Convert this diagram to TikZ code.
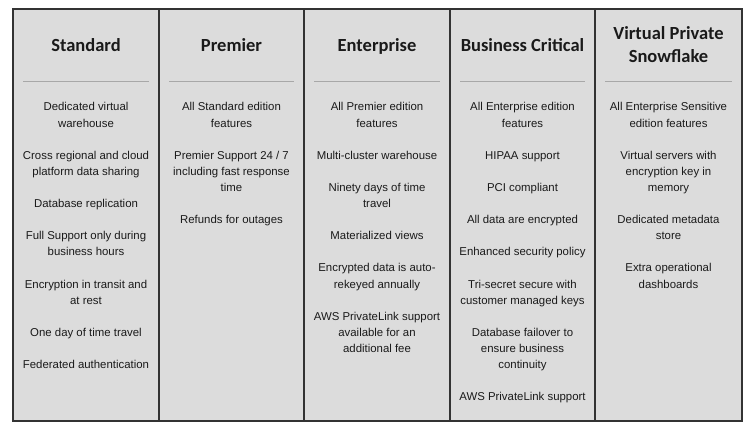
\documentclass[tikz,border=0pt]{standalone}
\usepackage{fontspec}
\setmainfont{Liberation Sans}
\newfontfamily\headfont{Carlito}
\definecolor{panel}{HTML}{DCDCDC}
\definecolor{frame}{HTML}{333333}
\definecolor{sepline}{HTML}{A8A8A8}
\definecolor{txt}{HTML}{1A1A1A}
\newcommand\itemgap{\\[16.1pt]}
\tikzset{
  colbox/.style={draw=frame, fill=panel, line width=1.2pt, inner sep=0pt, minimum height=412pt},
  head/.style={font=\headfont\bfseries\fontsize{18.5}{23}\selectfont, text=txt, align=center, inner sep=0pt, anchor=base},
  body/.style={font=\fontsize{11.4}{16.1}\selectfont, text=txt, align=center, inner sep=0pt, anchor=north},
  sepl/.style={draw=sepline, line width=0.8pt}
}
\begin{document}
\begin{tikzpicture}[x=1pt,y=-1pt]
\fill[white] (0,0) rectangle (756,433);
\useasboundingbox (0,0) rectangle (756,433);
% columns
\node[colbox, minimum width=146pt] (c1) at (86,215) {};
\node[colbox, minimum width=145pt] (c2) at (231.5,215) {};
\node[colbox, minimum width=146pt] (c3) at (377,215) {};
\node[colbox, minimum width=145pt] (c4) at (522.5,215) {};
\node[colbox, minimum width=147pt] (c5) at (668.5,215) {};
% headers
\node[head] (h1) at (86,52) {Standard};
\node[head] (h2) at (231.5,52) {Premier};
\node[head] (h3) at (377,52) {Enterprise};
\node[head] (h4) at (522.5,52) {Business Critical};
\node[head] (h5) at (668.5,63) {Virtual Private\\Snowflake};
% separators
\foreach \c in {1,...,5}{
  \draw[sepl] ([xshift=11pt]c\c.west |- 0,81) -- ([xshift=-11pt]c\c.east |- 0,81);
}
% bodies
\node[body] (b1) at (86,102.5) {Dedicated virtual\\warehouse\itemgap
Cross regional and cloud\\platform data sharing\itemgap
Database replication\itemgap
Full Support only during\\business hours\itemgap
Encryption in transit and\\at rest\itemgap
One day of time travel\itemgap
Federated authentication};
\node[body] (b2) at (231.5,102.5) {All Standard edition\\features\itemgap
Premier Support 24 / 7\\including fast response\\time\itemgap
Refunds for outages};
\node[body] (b3) at (377,102.5) {All Premier edition\\features\itemgap
Multi-cluster warehouse\itemgap
Ninety days of time\\travel\itemgap
Materialized views\itemgap
Encrypted data is auto-\\rekeyed annually\itemgap
AWS PrivateLink support\\available for an\\additional fee};
\node[body] (b4) at (522.5,102.5) {All Enterprise edition\\features\itemgap
HIPAA support\itemgap
PCI compliant\itemgap
All data are encrypted\itemgap
Enhanced security policy\itemgap
Tri-secret secure with\\customer managed keys\itemgap
Database failover to\\ensure business\\continuity\itemgap
AWS PrivateLink support};
\node[body] (b5) at (668.5,102.5) {All Enterprise Sensitive\\edition features\itemgap
Virtual servers with\\encryption key in\\memory\itemgap
Dedicated metadata\\store\itemgap
Extra operational\\dashboards};
\end{tikzpicture}
\end{document}
